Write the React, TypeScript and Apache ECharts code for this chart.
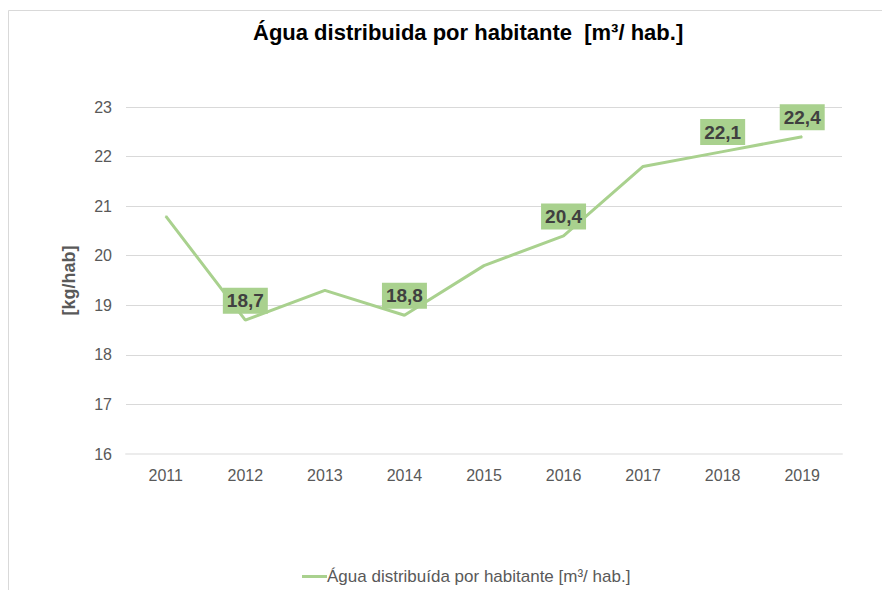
import React, { useEffect, useRef } from "react";
import * as echarts from "echarts";

const years = ["2011", "2012", "2013", "2014", "2015", "2016", "2017", "2018", "2019"];
const values = [20.8, 18.7, 19.3, 18.8, 19.8, 20.4, 21.8, 22.1, 22.4];
const labeledYears = ["2012", "2014", "2016", "2018", "2019"];
const seriesName = "Água distribuída por habitante [m³/ hab.]";
const titleText = "Água distribuida por habitante  [m³/ hab.]";
const yName = "[kg/hab]";

const GREEN = "#a9d18e";
const FONT = "Liberation Sans, Arial, sans-serif";

export default function App() {
  const ref = useRef<HTMLDivElement>(null);
  useEffect(() => {
    if (!ref.current) return;
    const chart = echarts.init(ref.current, undefined, { renderer: "svg" });
    const data = values.map((v, i) => {
      const y = years[i];
      const show = labeledYears.includes(y);
      return {
        value: v,
        label: show
          ? {
              show: true,
              position: "top",
              distance: 6,
              formatter: (p: any) => String(p.value).replace(".", ","),
              backgroundColor: GREEN,
              color: "#404040",
              fontWeight: "bold",
              fontSize: 19,
              lineHeight: 20,
              fontFamily: FONT,
              padding: [3, 4, 3, 4],
            }
          : { show: false },
      };
    });
    chart.setOption({
      animation: false,
      backgroundColor: "#ffffff",
      textStyle: { fontFamily: FONT },
      title: {
        text: titleText,
        left: 240,
        top: 8,
        textStyle: { fontSize: 22, fontWeight: "bold", color: "#000000", fontFamily: FONT },
      },
      graphic: [
        {
          type: "rect",
          shape: { x: 0.5, y: 2.5, width: 1000, height: 1000 },
          style: { fill: "none", stroke: "#d9d9d9", lineWidth: 1 },
          silent: true,
        },
      ],
      legend: {
        bottom: 0,
        left: 289,
        itemWidth: 25,
        itemHeight: 3,
        itemGap: 4,
        icon: "rect",
        textStyle: { fontSize: 17, color: "#595959", fontFamily: FONT, padding: [0, 0, 0, -5] },
        data: [seriesName],
      },
      grid: { left: 118, right: 48, top: 99, bottom: 136 },
      xAxis: {
        type: "category",
        data: years,
        boundaryGap: true,
        axisLine: { show: true, lineStyle: { color: "#ececec", width: 2 } },
        axisTick: { show: false },
        axisLabel: { color: "#595959", fontSize: 16, margin: 13, fontFamily: FONT },
      },
      yAxis: {
        type: "value",
        min: 16,
        max: 23,
        interval: 1,
        name: yName,
        nameLocation: "middle",
        nameGap: 48,
        nameRotate: 90,
        nameTextStyle: { fontSize: 18, fontWeight: "bold", color: "#595959", fontFamily: FONT },
        axisLine: { show: false },
        axisTick: { show: false },
        axisLabel: { color: "#595959", fontSize: 16, margin: 14, fontFamily: FONT },
        splitLine: { lineStyle: { color: "#d9d9d9" } },
      },
      series: [
        {
          name: seriesName,
          type: "line",
          data,
          symbol: "circle",
          symbolSize: 1,
          showSymbol: true,
          lineStyle: { color: GREEN, width: 3 },
          itemStyle: { color: GREEN },
        },
      ],
    });
    return () => chart.dispose();
  }, []);
  return <div ref={ref} style={{ width: 882, height: 582 }} />;
}
